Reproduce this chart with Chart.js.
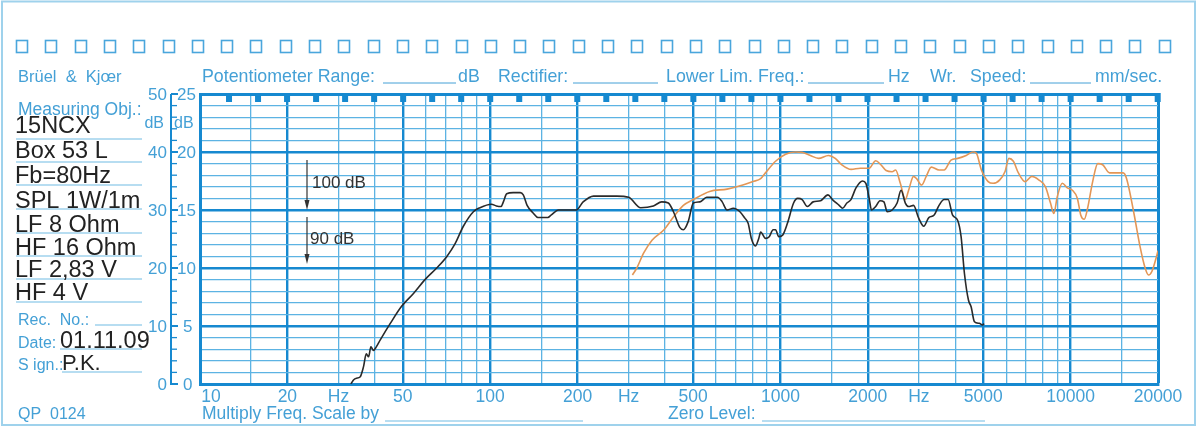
<!DOCTYPE html>
<html>
<head>
<meta charset="utf-8">
<script src="https://cdn.jsdelivr.net/npm/chart.js@4.4.0/dist/chart.umd.min.js"></script>
<style>
html,body{margin:0;padding:0;background:#fff;}
#wrap{position:relative;width:1200px;height:429px;}
</style>
</head>
<body>
<div id="wrap"><canvas id="bk" width="1200" height="429"></canvas></div>
<script>
// LF curve (black), level in divisions of the 25 scale
var lfFreq = [33.1,33.8,34.6,35.6,36.6,37.4,38.1,38.8,39.6,40.5,41.8,45.2,49.5,54.4,59.6,65.4,70.9,75.7,80.8,87.5,92.2,101,105,109,111,114,120,127,130,134,141,146,158,162,172,198,209,227,273,300,330,365,390,411,428,450,463,481,501,528,557,607,630,655,688,725,754,774,794,820,842,855,888,915,944,962,987,1019,1057,1110,1147,1188,1238,1296,1375,1458,1511,1594,1637,1694,1750,1821,1918,1970,2022,2060,2130,2203,2273,2333,2427,2524,2604,2694,2765,2875,2995,3118,3246,3380,3520,3665,3783,3920,4082,4193,4305,4445,4540,4661,4843,4970,5032];
var lfLevel = [0,0.35,0.5,0.6,1.5,2.6,2.35,3.2,2.9,3.2,3.8,5.2,6.7,7.8,9.0,10.0,11.0,12.1,13.6,14.85,15.2,15.5,15.35,15.3,15.7,16.4,16.5,16.5,16.3,15.4,14.7,14.35,14.35,14.55,15.0,15.0,15.7,16.2,16.2,16.1,15.2,15.35,15.7,15.6,14.85,13.5,13.3,14.0,15.6,15.7,16.1,16.1,15.7,15.0,15.15,14.85,14.3,13.85,12.55,11.9,12.55,13.1,12.55,12.7,13.3,13.3,12.7,12.85,13.85,15.6,16.0,15.9,15.3,15.7,15.8,16.3,15.9,15.4,15.15,15.6,15.9,16.9,17.5,17.3,16.0,15.0,15.3,15.8,15.7,14.85,15.0,15.6,16.7,15.6,15.3,15.4,14.3,13.6,14.35,14.55,15.4,15.9,15.9,14.55,14.1,12.7,9.55,7.24,6.66,5.37,5.23,5.09,5.2];

// HF curve (orange)
var hfFreq = [309,320,338,361,397,428,463,501,570,655,742,803,855,888,962,1042,1127,1188,1268,1353,1464,1545,1627,1753,1885,2022,2130,2219,2313,2427,2494,2589,2694,2765,2875,2946,3065,3180,3310,3520,3665,3870,4082,4365,4606,4731,4925,5197,5409,5700,5938,6128,6348,6606,6968,7354,7762,8190,8523,8754,8994,9360,9742,10139,10550,10840,11140,11440,11910,12400,12900,13620,14360,15170,15590,16440,17360,18060,18550,19050,19820,20000];
var hfLevel = [9.4,10.0,11.3,12.4,13.3,14.4,15.4,15.9,16.6,16.8,17.15,17.45,17.7,18.2,19.2,19.8,20.0,19.97,19.7,19.45,19.7,19.45,18.9,18.5,18.6,18.6,19.25,18.9,18.4,18.3,18.45,17.3,15.9,16.7,17.9,17.7,17.15,17.9,18.7,18.45,18.45,19.3,19.45,19.7,20.0,19.9,18.45,17.45,17.3,17.6,18.3,19.45,19.2,18.2,17.45,17.9,17.6,17.0,15.6,14.7,16.15,17.3,16.9,16.7,16.0,14.55,14.2,15.15,17.45,19.0,18.9,18.2,18.2,18.2,17.7,15.0,11.8,10.0,9.4,9.7,11.1,11.5];

// paper grid
var gridFreqs = [10,15,20,30,40,50,60,70,80,90,100,150,200,300,400,500,600,700,800,900,1000,1500,2000,3000,4000,5000,6000,7000,8000,9000,10000,15000,20000];
var majorFreqs = [10,20,50,100,200,500,1000,2000,5000,10000,20000];
var freqLabelValues = [10,20,30,50,100,200,300,500,1000,2000,3000,5000,10000,20000];
var freqLabelTexts = ['10','20','Hz','50','100','200','Hz','500','1000','2000','Hz','5000','10000','20000'];
var levelTicks = [0,5,10,15,20,25];
var dbLeftLabels = ['0','10','20','30','40','50'];
var dbRightLabels = ['0','5','10','15','20','25'];

var MAJOR = '#1689d0';
var MINOR = '#5cb3e3';
var BLUE_TXT = '#44a0d6';
var PALE = '#9fd2ec';
var INK = '#222';
var FONT = '"Liberation Sans", Arial, sans-serif';

function toPoints(xs, ys){
    var pts = [];
    xs.forEach((x, i) => { pts.push({x: x, y: ys[i]}); });
    return pts;
}

function txt(ctx, s, x, y, size, color, align){
    ctx.font = size + 'px ' + FONT;
    ctx.fillStyle = color;
    ctx.textAlign = align || 'left';
    ctx.textBaseline = 'alphabetic';
    ctx.fillText(s, x, y);
}

function line(ctx, x1, y1, x2, y2, color, w){
    ctx.beginPath();
    ctx.strokeStyle = color;
    ctx.lineWidth = w;
    ctx.moveTo(x1, y1);
    ctx.lineTo(x2, y2);
    ctx.stroke();
}

function arrow(ctx, x, y1, y2){
    line(ctx, x, y1, x, y2 - 8, '#333', 1.2);
    ctx.beginPath();
    ctx.fillStyle = '#333';
    ctx.moveTo(x - 2.5, y2 - 10);
    ctx.lineTo(x + 2.5, y2 - 10);
    ctx.lineTo(x, y2);
    ctx.closePath();
    ctx.fill();
}

var paper = {
    id: 'paper',
    beforeDraw(chart){
        var ctx = chart.ctx;
        ctx.save();
        ctx.fillStyle = '#fff';
        ctx.fillRect(0, 0, chart.width, chart.height);
        ctx.restore();
    },
    afterDraw(chart){
        var ctx = chart.ctx;
        var xs = chart.scales.x, ys = chart.scales.y;
        var area = chart.chartArea;
        ctx.save();

        // outer frame
        ctx.strokeStyle = PALE;
        ctx.lineWidth = 2;
        ctx.strokeRect(2, 1.5, 1193, 423.5);

        // row of punch squares
        ctx.strokeStyle = '#4aa6dc';
        ctx.lineWidth = 1.6;
        for (var i = 0; i < 40; i++) {
            ctx.strokeRect(Math.round(16 + i * 29.3) + 0.5, 40.5, 11, 12);
        }

        // header
        txt(ctx, 'Brüel  &  Kjœr', 18, 82, 16.5, BLUE_TXT);
        txt(ctx, 'Potentiometer Range:', 202, 82, 17.8, BLUE_TXT);
        line(ctx, 383, 83, 456, 83, BLUE_TXT, 1);
        txt(ctx, 'dB', 458, 82, 17.8, BLUE_TXT);
        txt(ctx, 'Rectifier:', 498, 82, 17.8, BLUE_TXT);
        line(ctx, 573, 83, 658, 83, BLUE_TXT, 1);
        txt(ctx, 'Lower Lim. Freq.:', 666, 82, 17.8, BLUE_TXT);
        line(ctx, 808, 83, 884, 83, BLUE_TXT, 1);
        txt(ctx, 'Hz', 888, 82, 17.8, BLUE_TXT);
        txt(ctx, 'Wr.', 930, 82, 17.8, BLUE_TXT);
        txt(ctx, 'Speed:', 970, 82, 17.8, BLUE_TXT);
        line(ctx, 1030, 83, 1091, 83, BLUE_TXT, 1);
        txt(ctx, 'mm/sec.', 1095, 82, 17.8, BLUE_TXT);

        // left panel
        txt(ctx, 'Measuring Obj.:', 18, 115, 17.5, BLUE_TXT);
        var objLines = ['15NCX','Box 53 L','Fb=80Hz','SPL 1W/1m','LF 8 Ohm','HF 16 Ohm','LF 2,83 V','HF 4 V'];
        var objBase = [133,158,183,208,232,255,277,300];
        var objRule = [139,162,185,209,233,256,279,302];
        objLines.forEach((s, k) => {
            line(ctx, 16, objRule[k], 142, objRule[k], PALE, 1.5);
            txt(ctx, s, 15, objBase[k], 23.5, INK);
        });
        txt(ctx, 'Rec.  No.:', 18, 325, 16, BLUE_TXT);
        line(ctx, 95, 325, 142, 325, PALE, 1.5);
        txt(ctx, 'Date:', 18, 348, 16, BLUE_TXT);
        line(ctx, 60, 349, 142, 349, PALE, 1.5);
        txt(ctx, '01.11.09', 60, 348, 23.5, INK);
        txt(ctx, 'S ign.:', 18, 370, 16, BLUE_TXT);
        line(ctx, 62, 372, 142, 372, PALE, 1.5);
        txt(ctx, 'P.K.', 62, 370, 22, INK);
        txt(ctx, 'QP  0124', 18, 419, 16, BLUE_TXT);

        // footer
        txt(ctx, 'Multiply Freq. Scale by', 202, 419, 17.5, BLUE_TXT);
        line(ctx, 385, 421, 583, 421, PALE, 1.5);
        txt(ctx, 'Zero Level:', 668, 419, 17.5, BLUE_TXT);
        line(ctx, 762, 421, 985, 421, PALE, 1.5);

        // level ruler left of the grid
        var y0 = ys.getPixelForValue(0), y25 = ys.getPixelForValue(25);
        line(ctx, 171, y25, 171, y0 + 1, MAJOR, 2);
        for (var v = 0; v <= 25; v++) {
            var py = ys.getPixelForValue(v);
            line(ctx, 171, py, v % 5 === 0 ? 178 : 177, py, MAJOR, v % 5 === 0 ? 2 : 1.3);
        }
        levelTicks.forEach((v, k) => {
            var py = ys.getPixelForValue(v) + 6;
            txt(ctx, dbLeftLabels[k], 167, py, 17, BLUE_TXT, 'right');
            txt(ctx, dbRightLabels[k], dbRightLabels[k].length > 1 ? 177 : 183, py, 17, BLUE_TXT);
        });
        txt(ctx, 'dB', 164, 128, 16, BLUE_TXT, 'right');
        txt(ctx, 'dB', 174, 128, 16, BLUE_TXT);

        // frequency labels
        freqLabelValues.forEach((f, k) => {
            var px = xs.getPixelForValue(f);
            if (k === 0) px += 11;
            txt(ctx, freqLabelTexts[k], px, 402, 17.5, BLUE_TXT, 'center');
        });

        // paper speed marks along the top edge
        ctx.fillStyle = MAJOR;
        for (var m = 1; m <= 33; m++) {
            var mx = xs.getPixelForValue(10 * Math.pow(10, m / 10));
            ctx.fillRect(mx - 3, area.top - 1, 6, 9);
        }

        // reference level marks
        arrow(ctx, 307, 160, ys.getPixelForValue(15));
        txt(ctx, '100 dB', 312, 188, 17, '#333');
        arrow(ctx, 307, 217, ys.getPixelForValue(10) - 4);
        txt(ctx, '90 dB', 310, 244, 17, '#333');

        ctx.restore();
    }
};

var ctx = document.getElementById('bk').getContext('2d');
var chart = new Chart(ctx, {
    type: 'line',
    data: {
        datasets: [{
            label: 'LF',
            data: toPoints(lfFreq, lfLevel),
            borderColor: '#2a2a2a',
            borderWidth: 1.6,
            pointRadius: 0,
            cubicInterpolationMode: 'monotone'
        }, {
            label: 'HF',
            data: toPoints(hfFreq, hfLevel),
            borderColor: '#e39656',
            borderWidth: 1.6,
            pointRadius: 0,
            cubicInterpolationMode: 'monotone'
        }]
    },
    options: {
        responsive: false,
        animation: false,
        events: [],
        layout: { padding: { left: 200, right: 42, top: 94, bottom: 45 } },
        plugins: { legend: { display: false }, tooltip: { enabled: false } },
        scales: {
            x: {
                type: 'logarithmic',
                min: 10,
                max: 20000,
                afterBuildTicks: function(scale){
                    scale.ticks = gridFreqs.map(f => ({ value: f }));
                },
                ticks: { display: false, autoSkip: false },
                grid: {
                    drawTicks: false,
                    color: c => majorFreqs.includes(c.tick.value) ? MAJOR : MINOR,
                    lineWidth: c => c.tick.value === 20000 ? 3 : (majorFreqs.includes(c.tick.value) ? 2.4 : 1.3)
                },
                border: { display: true, color: MAJOR, width: 3 }
            },
            y: {
                min: 0,
                max: 25,
                ticks: { display: false, stepSize: 1 },
                grid: {
                    drawTicks: false,
                    color: c => c.tick.value % 5 === 0 ? MAJOR : MINOR,
                    lineWidth: c => c.tick.value === 25 ? 3 : (c.tick.value % 5 === 0 ? 2.4 : 1.3)
                },
                border: { display: true, color: MAJOR, width: 3 }
            }
        }
    },
    plugins: [paper]
});
</script>
</body>
</html>
